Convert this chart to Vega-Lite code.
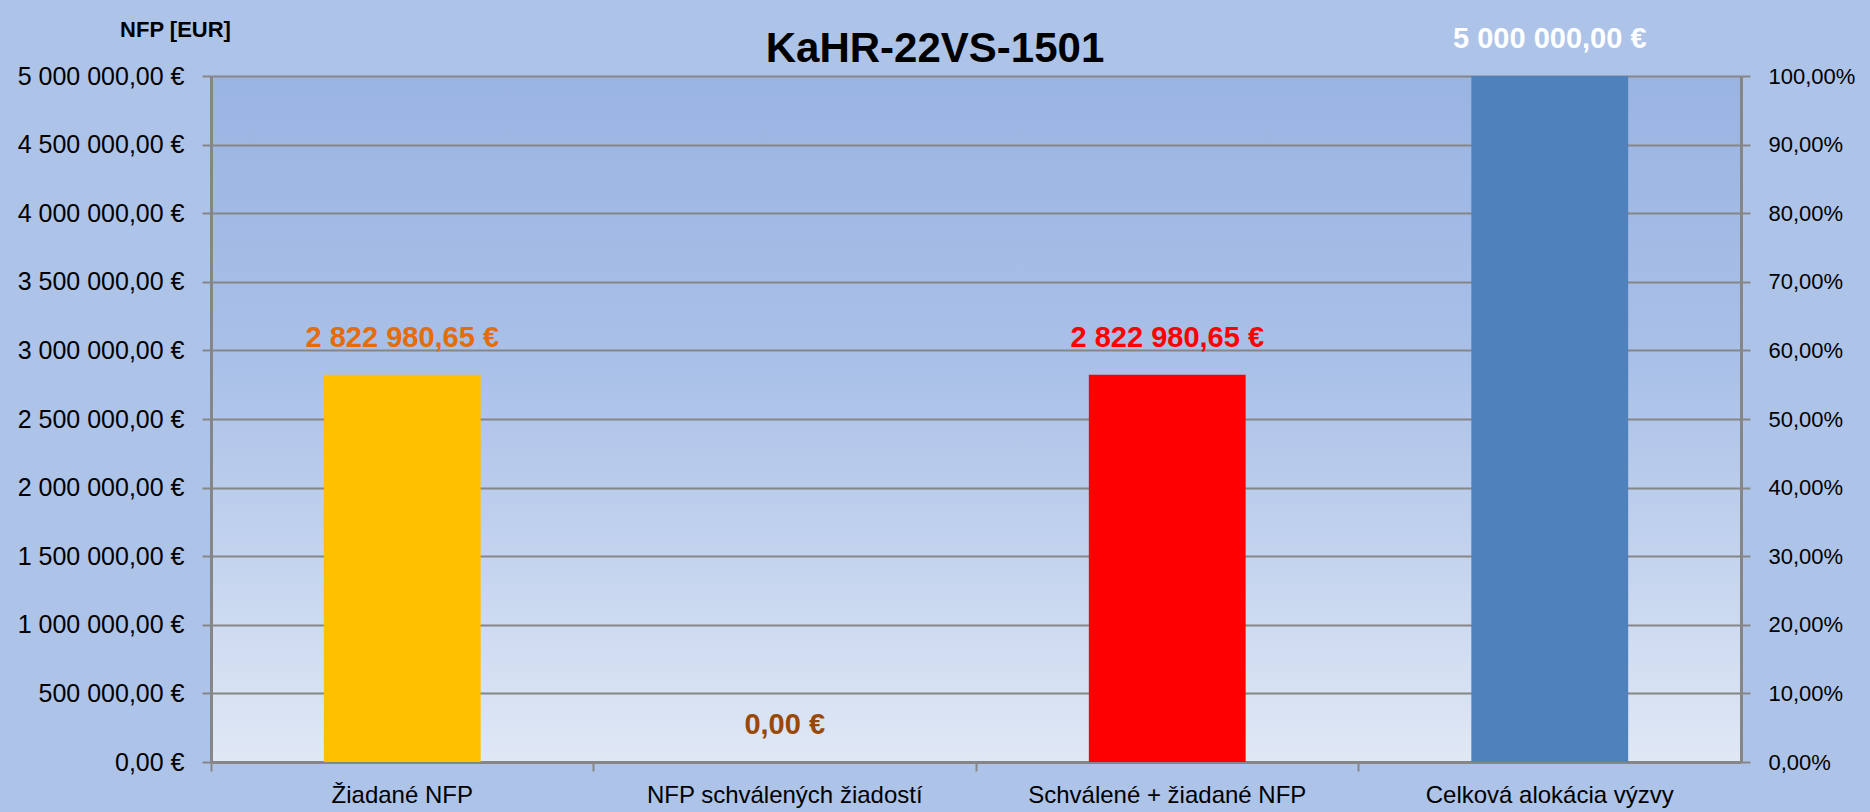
{
  "$schema": "https://vega.github.io/schema/vega-lite/v6.json",
  "width": 1530,
  "height": 686,
  "autosize": {"type": "none"},
  "padding": {"left": 211, "top": 76, "right": 129, "bottom": 50},
  "background": "#ADC3E8",
  "view": {
    "stroke": null,
    "fill": {
      "gradient": "linear",
      "x1": 0, "y1": 0, "x2": 0, "y2": 1,
      "stops": [
        {"offset": 0, "color": "#9AB4E2"},
        {"offset": 0.42, "color": "#A9C0E8"},
        {"offset": 1, "color": "#E0E8F5"}
      ]
    }
  },
  "config": {
    "font": "Liberation Sans",
    "locale": {
      "number": {
        "decimal": ",",
        "thousands": " ",
        "grouping": [3],
        "currency": ["", " €"],
        "percent": "%"
      }
    }
  },
  "title": {
    "text": "KaHR-22VS-1501",
    "anchor": "middle",
    "frame": "group",
    "dx": -41,
    "dy": 102,
    "offset": 16,
    "baseline": "alphabetic",
    "fontSize": 42,
    "fontWeight": "bold",
    "font": "Liberation Sans",
    "color": "#000000"
  },
  "data": {
    "values": [
      {"kategoria": "Žiadané NFP", "suma": 2822980.65, "podiel": 0.564596},
      {"kategoria": "NFP schválených žiadostí", "suma": 0, "podiel": 0},
      {"kategoria": "Schválené + žiadané NFP", "suma": 2822980.65, "podiel": 0.564596},
      {"kategoria": "Celková alokácia výzvy", "suma": 5000000, "podiel": 1}
    ]
  },
  "layer": [
    {
      "mark": {"type": "bar"},
      "encoding": {
        "x": {
          "field": "kategoria",
          "type": "nominal",
          "sort": null,
          "scale": {"paddingInner": 0.59, "paddingOuter": 0.295},
          "axis": {
            "orient": "bottom",
            "title": null,
            "labelAngle": 0,
            "labelFontSize": 24,
            "labelLimit": 0,
            "labelColor": "#000000",
            "labelPadding": 21,
            "ticks": false,
            "tickSize": 0,
            "domainColor": "#868686",
            "domainWidth": 3,
            "grid": false
          }
        },
        "y": {
          "field": "suma",
          "type": "quantitative",
          "scale": {"domain": [0, 5000000], "nice": false},
          "axis": {
            "title": "NFP [EUR]",
            "titleAngle": 0,
            "titleX": -36,
            "titleY": -47,
            "titleAlign": "center",
            "titleBaseline": "middle",
            "titleFontSize": 22,
            "titleFontWeight": "bold",
            "titleColor": "#000000",
            "values": [0, 500000, 1000000, 1500000, 2000000, 2500000, 3000000, 3500000, 4000000, 4500000, 5000000],
            "format": "$,.2f",
            "labelFontSize": 25,
            "labelColor": "#000000",
            "labelPadding": 18,
            "tickSize": 9,
            "tickWidth": 2,
            "tickColor": "#868686",
            "domainColor": "#868686",
            "domainWidth": 3,
            "grid": true,
            "gridColor": "#868686",
            "gridWidth": 2
          }
        },
        "color": {
          "field": "kategoria",
          "type": "nominal",
          "scale": {
            "domain": ["Žiadané NFP", "NFP schválených žiadostí", "Schválené + žiadané NFP", "Celková alokácia výzvy"],
            "range": ["#FFC000", "#984807", "#FF0000", "#4F81BD"]
          },
          "legend": null
        }
      }
    },
    {
      "mark": {"type": "text", "dy": -37, "baseline": "middle", "align": "center", "fontSize": 29, "fontWeight": "bold"},
      "encoding": {
        "x": {"field": "kategoria", "type": "nominal", "sort": null, "axis": null},
        "y": {"field": "suma", "type": "quantitative", "scale": {"domain": [0, 5000000], "nice": false}, "axis": null},
        "text": {"field": "suma", "type": "quantitative", "format": "$,.2f"},
        "color": {
          "field": "kategoria",
          "type": "nominal",
          "scale": {
            "domain": ["Žiadané NFP", "NFP schválených žiadostí", "Schválené + žiadané NFP", "Celková alokácia výzvy"],
            "range": ["#E46C0A", "#984807", "#FF0000", "#FFFFFF"]
          },
          "legend": null
        }
      }
    },
    {
      "mark": {"type": "bar", "opacity": 0},
      "encoding": {
        "x": {
          "field": "kategoria",
          "type": "nominal",
          "sort": null,
          "axis": {
            "orient": "bottom",
            "title": null,
            "labels": false,
            "domain": false,
            "grid": false,
            "ticks": true,
            "tickSize": 9,
            "tickWidth": 2,
            "tickColor": "#868686",
            "bandPosition": -0.7194
          }
        },
        "y": {
          "field": "podiel",
          "type": "quantitative",
          "scale": {"domain": [0, 1], "nice": false},
          "axis": {
            "orient": "right",
            "title": null,
            "values": [0, 0.1, 0.2, 0.3, 0.4, 0.5, 0.6, 0.7, 0.8, 0.9, 1],
            "format": ".2%",
            "labelFontSize": 22,
            "labelColor": "#000000",
            "labelPadding": 18,
            "tickSize": 9,
            "tickWidth": 2,
            "tickColor": "#868686",
            "domainColor": "#868686",
            "domainWidth": 3,
            "grid": false
          }
        }
      }
    }
  ],
  "resolve": {
    "scale": {"y": "independent", "color": "independent"},
    "axis": {"x": "independent", "y": "independent"}
  }
}
